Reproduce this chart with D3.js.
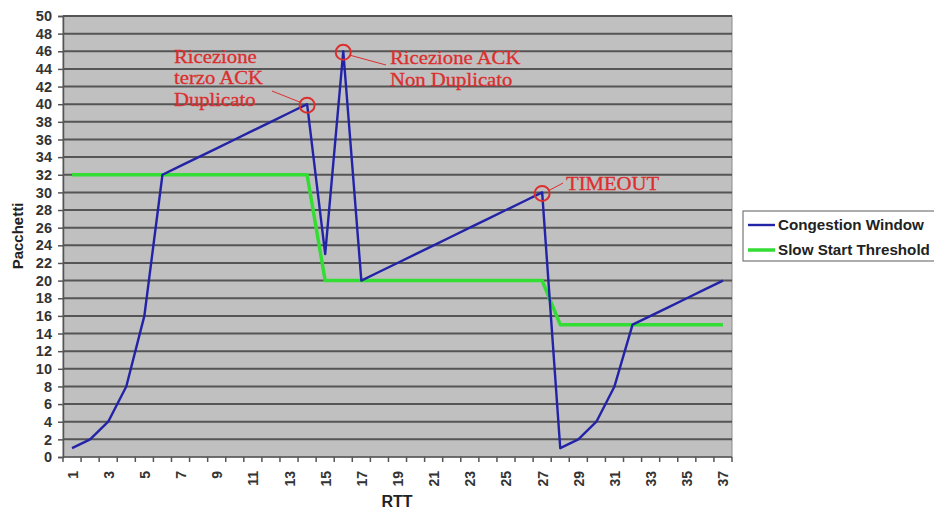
<!DOCTYPE html>
<html><head><meta charset="utf-8">
<script src="https://cdn.jsdelivr.net/npm/d3@7"></script>
<style>
body{margin:0;background:#fff;}
svg{display:block;}
</style></head>
<body><svg id="c" width="934" height="512"></svg>
<script>
const rtt = d3.range(1, 38);
const congestionWindow = [1,2,4,8,16,32,33,34,35,36,37,38,39,40,23,46,20,21,22,23,24,25,26,27,28,29,30,1,2,4,8,15,16,17,18,19,20];
const slowStartThreshold = [32,32,32,32,32,32,32,32,32,32,32,32,32,32,20,20,20,20,20,20,20,20,20,20,20,20,20,15,15,15,15,15,15,15,15,15,15];
const yTicks = d3.range(0, 51, 2);
const xTickLabels = rtt.filter(d => d % 2 === 1);
const seriesNames = ["Congestion Window", "Slow Start Threshold"];
const annotations = [
  {x:14, y:40, lines:["Ricezione","terzo ACK","Duplicato"]},
  {x:16, y:46, lines:["Ricezione ACK","Non Duplicato"]},
  {x:27, y:30, lines:["TIMEOUT"]}
];

const SANS = "Liberation Sans, Arial, sans-serif";
const SERIF = "Liberation Serif, Times New Roman, serif";
const svg = d3.select("#c");
const L = 63, R = 732, T = 16, B = 457;
const x = d3.scaleBand().domain(rtt).range([L, R]);
const y = d3.scaleLinear().domain([0, 50]).range([B, T]);
const cx = d => x(d) + x.bandwidth() / 2;

svg.append("rect").attr("x", L).attr("y", T).attr("width", R - L).attr("height", B - T)
  .attr("fill", "#c0c0c0").attr("stroke", "#8a8a8a").attr("stroke-width", 1);

// gridlines
svg.append("g").selectAll("line").data(yTicks.filter(d => d > 0)).join("line")
  .attr("x1", L).attr("x2", R).attr("y1", d => y(d)).attr("y2", d => y(d))
  .attr("stroke", "#555").attr("stroke-width", 2);

// y axis
const ya = svg.append("g").attr("transform", `translate(${L},0)`)
  .call(d3.axisLeft(y).tickValues(yTicks).tickSize(5).tickPadding(6));
ya.select(".domain").attr("stroke", "#555").attr("stroke-width", 1.5);
ya.selectAll(".tick line").attr("stroke", "#555").attr("stroke-width", 1.5);
ya.selectAll("text").attr("font-size", 14.5).attr("font-weight", "bold").attr("fill", "#333")
  .attr("font-family", SANS);

// x axis
const xa = svg.append("g").attr("transform", `translate(0,${B})`);
xa.append("line").attr("x1", L).attr("x2", R).attr("stroke", "#555").attr("stroke-width", 1.5);
xa.selectAll("line.tk").data(d3.range(0, 38)).join("line").attr("class", "tk")
  .attr("x1", i => L + i * x.step()).attr("x2", i => L + i * x.step())
  .attr("y1", 0).attr("y2", 5).attr("stroke", "#555").attr("stroke-width", 1.5);
xa.selectAll("text").data(xTickLabels).join("text")
  .attr("transform", d => `translate(${cx(d) + 5.5},${14}) rotate(-90)`)
  .attr("text-anchor", "end").attr("font-size", 14).attr("font-weight", "bold").attr("fill", "#333")
  .attr("font-family", SANS).text(d => d);

svg.append("text").attr("x", 397).attr("y", 507).attr("text-anchor", "middle")
  .attr("font-family", SANS).attr("font-size", 16).attr("font-weight", "bold").attr("fill", "#222").text("RTT");
svg.append("text").attr("transform", "translate(23,236) rotate(-90)").attr("text-anchor", "middle")
  .attr("font-family", SANS).attr("font-size", 15).attr("font-weight", "bold").attr("fill", "#222").text("Pacchetti");

const line = d3.line().x((d, i) => cx(rtt[i])).y(d => y(d));
svg.append("path").datum(slowStartThreshold).attr("d", line).attr("fill", "none")
  .attr("stroke", "#33dd33").attr("stroke-width", 3.5).attr("stroke-linejoin", "round");
svg.append("path").datum(congestionWindow).attr("d", line).attr("fill", "none")
  .attr("stroke", "#2323a8").attr("stroke-width", 2.4).attr("stroke-linejoin", "round");

// annotations
const red = "#dc2e2e";
const ag = svg.append("g");
ag.selectAll("circle").data(annotations).join("circle")
  .attr("cx", d => cx(d.x)).attr("cy", d => y(d.y) + 1).attr("r", 7.5)
  .attr("fill", "none").attr("stroke", red).attr("stroke-width", 2);
const textPos = [
  {tx:174, ty:63, lh:21.5, lx1:272, ly1:91, lx2:cx(14)-7, ly2:y(40)-2},
  {tx:390, ty:64, lh:22, lx1:cx(16)+7, ly1:y(46)+4, lx2:386, ly2:65},
  {tx:566, ty:190, lh:22, lx1:cx(27)+7, ly1:y(30)-2, lx2:563, ly2:183}
];
annotations.forEach((a, i) => {
  const p = textPos[i];
  const g = ag.append("g").attr("transform", `translate(${p.tx},${p.ty}) scale(1.15,1)`);
  a.lines.forEach((t, j) => {
    g.append("text").attr("x", 0).attr("y", j * p.lh)
      .attr("font-family", SERIF).attr("font-size", 18).attr("fill", red)
      .attr("stroke", red).attr("stroke-width", 0.3).text(t);
  });
  ag.append("line").attr("x1", p.lx1).attr("y1", p.ly1).attr("x2", p.lx2).attr("y2", p.ly2)
    .attr("stroke", red).attr("stroke-width", 1);
});

// legend
const lg = svg.append("g");
lg.append("rect").attr("x", 743).attr("y", 211).attr("width", 200).attr("height", 50)
  .attr("fill", "#fff").attr("stroke", "#777").attr("stroke-width", 1.2);
const lcol = ["#2323a8", "#33dd33"];
seriesNames.forEach((n, i) => {
  const yy = 225 + i * 25;
  lg.append("line").attr("x1", 748).attr("x2", 775).attr("y1", yy).attr("y2", yy)
    .attr("stroke", lcol[i]).attr("stroke-width", i ? 3.5 : 2.4);
  lg.append("text").attr("x", 778).attr("y", yy + 5).attr("font-size", 15.2)
    .attr("font-family", SANS).attr("font-weight", "bold").attr("fill", "#222").text(n);
});
</script></body></html>
